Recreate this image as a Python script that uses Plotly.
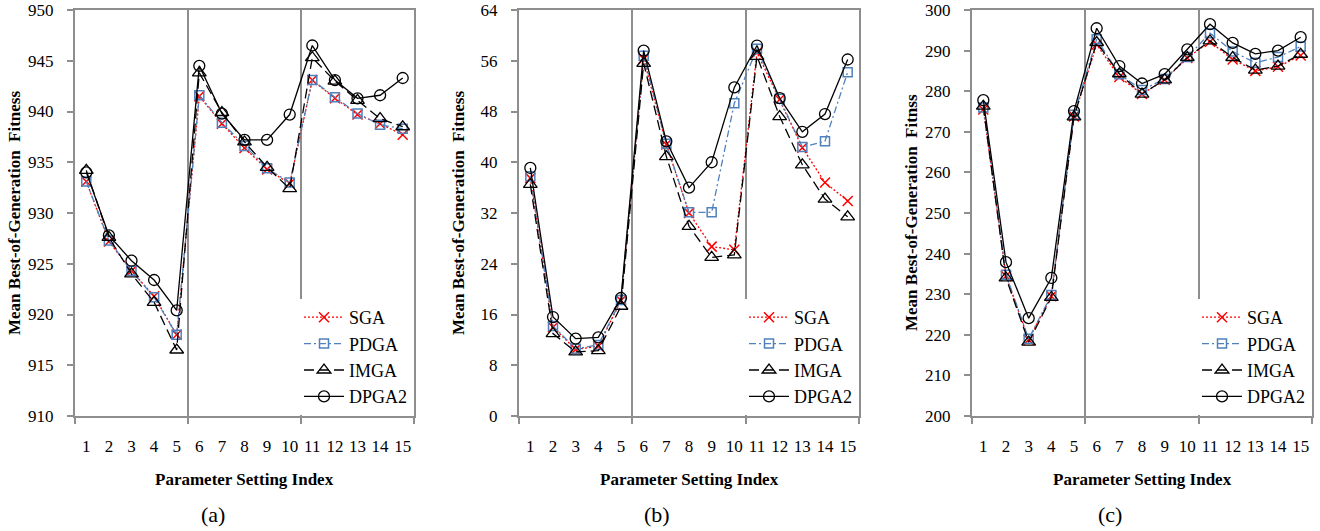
import plotly.graph_objects as go

x_index = list(range(1, 16))
x_ticklabels = [str(i) for i in x_index]
series_names = ["SGA", "PDGA", "IMGA", "DPGA2"]

a_sga = [933.1, 927.2, 924.3, 921.8, 918.0, 941.5, 938.8, 936.4, 934.3, 932.9, 943.1, 941.3, 939.7, 938.8, 937.7]
a_pdga = [933.1, 927.3, 924.3, 921.7, 918.0, 941.6, 938.9, 936.6, 934.4, 933.0, 943.1, 941.4, 939.8, 938.7, 938.3]
a_imga = [934.2, 927.6, 924.0, 921.2, 916.5, 943.8, 939.9, 937.0, 934.5, 932.4, 945.3, 943.0, 941.1, 939.3, 938.5]
a_dpga2 = [934.0, 927.8, 925.3, 923.4, 920.4, 944.5, 939.8, 937.2, 937.2, 939.7, 946.5, 943.1, 941.3, 941.6, 943.3]

b_sga = [37.5, 14.0, 10.5, 11.0, 18.2, 56.3, 42.8, 32.0, 26.7, 26.2, 57.3, 49.9, 42.3, 36.8, 33.9]
b_pdga = [37.8, 14.2, 10.6, 11.2, 18.3, 56.8, 42.9, 32.1, 32.1, 49.3, 57.9, 50.0, 42.4, 43.3, 54.2]
b_imga = [36.5, 13.0, 10.1, 10.3, 17.3, 55.6, 40.9, 29.9, 25.0, 25.4, 56.7, 47.2, 39.6, 34.2, 31.4]
b_dpga2 = [39.1, 15.6, 12.2, 12.4, 18.6, 57.6, 43.3, 36.0, 40.0, 51.8, 58.4, 50.1, 44.8, 47.6, 56.2]

c_sga = [275.5, 234.5, 218.8, 229.5, 273.8, 291.5, 283.5, 279.3, 282.8, 288.2, 292.2, 287.8, 285.0, 286.0, 288.8]
c_pdga = [276.0, 234.8, 219.0, 229.8, 274.2, 292.8, 284.2, 280.3, 283.0, 288.4, 294.3, 289.8, 287.0, 288.4, 291.0]
c_imga = [276.3, 234.0, 218.2, 229.2, 273.7, 292.0, 284.3, 279.3, 282.8, 288.3, 292.4, 288.3, 285.2, 286.2, 289.1]
c_dpga2 = [277.8, 237.9, 224.1, 234.0, 275.1, 295.5, 286.2, 281.9, 284.2, 290.3, 296.5, 291.9, 289.2, 290.0, 293.3]

y_titles = ["Mean Best-of-Generation  Fitness", "Mean Best-of-Generation  Fitness", "Mean Best-of-Generation  Fitnss"]
x_title = "Parameter Setting Index"
captions = ["(a)", "(b)", "(c)"]
y_ranges = [(910, 950, 5), (0, 64, 8), (200, 300, 10)]

panels = [
    [a_sga, a_pdga, a_imga, a_dpga2],
    [b_sga, b_pdga, b_imga, b_dpga2],
    [c_sga, c_pdga, c_imga, c_dpga2],
]

W, H = 1320, 531
x_px = [(75, 414), (519, 859), (972, 1312)]
y_top, y_bot = 10, 416

styles = [
    dict(line=dict(color="#FF0000", width=1.3, dash="2px,2px"),
         marker=dict(symbol="x-thin-open", size=10, color="#FF0000", line=dict(color="#FF0000", width=1.5))),
    dict(line=dict(color="#4F81BD", width=1.3, dash="7px,3px,2px,3px"),
         marker=dict(symbol="square-open", size=9, color="#4F81BD", line=dict(color="#4F81BD", width=1.5))),
    dict(line=dict(color="#000000", width=1.3, dash="10px,5px"),
         marker=dict(symbol="triangle-up-open", size=12, color="#000000", line=dict(color="#000000", width=1.3))),
    dict(line=dict(color="#000000", width=1.3),
         marker=dict(symbol="circle-open", size=11, color="#000000", line=dict(color="#000000", width=1.3))),
]

font_family = "Liberation Serif"
axis_gray = "#8E8E8E"

fig = go.Figure()
layout = dict(
    width=W, height=H, margin=dict(l=0, r=0, t=0, b=0, autoexpand=False),
    paper_bgcolor="white", plot_bgcolor="white",
    font=dict(family=font_family, color="black", size=17),
    showlegend=True,
)
annotations = []
yd = [(H - y_bot) / H, (H - y_top) / H]

for p in range(3):
    sfx = "" if p == 0 else str(p + 1)
    xa = "x" + sfx
    ya = "y" + sfx
    leg = "legend" if p == 0 else "legend" + str(p + 1)
    x0, x1 = x_px[p]
    xd = [x0 / W, x1 / W]
    for s in range(4):
        fig.add_trace(go.Scatter(
            x=x_index, y=panels[p][s], name=series_names[s], mode="lines+markers",
            xaxis=xa, yaxis=ya, legend=leg,
            line=styles[s]["line"], marker=styles[s]["marker"], cliponaxis=False,
        ))
    lo, hi, dt = y_ranges[p]
    layout["xaxis" + sfx] = dict(
        domain=xd, anchor=ya, range=[0.5, 15.5], automargin=False,
        tickmode="array", tickvals=x_index, ticktext=x_ticklabels,
        ticks="", showline=True, linecolor=axis_gray, linewidth=2, mirror=True,
        showgrid=False, zeroline=False, ticklabelstandoff=14,
        tickfont=dict(size=17, color="black", family=font_family),
        minor=dict(tickmode="array", tickvals=[0.5, 5.5, 10.5, 15.5], ticks="outside",
                   ticklen=6, tickcolor=axis_gray, tickwidth=2,
                   showgrid=True, gridcolor=axis_gray, gridwidth=2),
    )
    layout["yaxis" + sfx] = dict(
        domain=yd, anchor=xa, range=[lo, hi], tickmode="linear", tick0=lo, dtick=dt,
        automargin=False,
        ticks="outside", ticklen=6, tickcolor=axis_gray, tickwidth=1.5,
        showline=True, linecolor=axis_gray, linewidth=2, mirror=True,
        showgrid=False, zeroline=False, ticklabelstandoff=10,
        tickfont=dict(size=17, color="black", family=font_family),
    )
    layout[leg] = dict(
        x=xd[1] - 1 / W, xanchor="right", y=(H - 415) / H, yanchor="bottom",
        bgcolor="white", borderwidth=0,
        font=dict(size=18, color="black", family=font_family),
        itemwidth=40,
    )
    annotations.append(dict(
        text="<b>" + x_title + "</b>", x=(x0 + x1) / 2 / W, y=(H - 479) / H,
        xref="paper", yref="paper", showarrow=False, xanchor="center", yanchor="middle",
        font=dict(size=17, color="black", family=font_family),
    ))
    annotations.append(dict(
        text="<b>" + y_titles[p] + "</b>", x=(x0 - 60) / W, y=(H - (y_top + y_bot) / 2) / H,
        xref="paper", yref="paper", showarrow=False, xanchor="center", yanchor="middle",
        textangle=-90, font=dict(size=17, color="black", family=font_family),
    ))
    annotations.append(dict(
        text=captions[p], x=((x0 + x1) / 2 - 32) / W, y=(H - 514) / H,
        xref="paper", yref="paper", showarrow=False, xanchor="center", yanchor="middle",
        font=dict(size=22, color="black", family=font_family),
    ))

layout["annotations"] = annotations
fig.update_layout(**layout)
fig.write_html("out.html", config={"displayModeBar": False},
               post_script="document.body.style.margin='0';document.body.style.overflow='hidden';")
